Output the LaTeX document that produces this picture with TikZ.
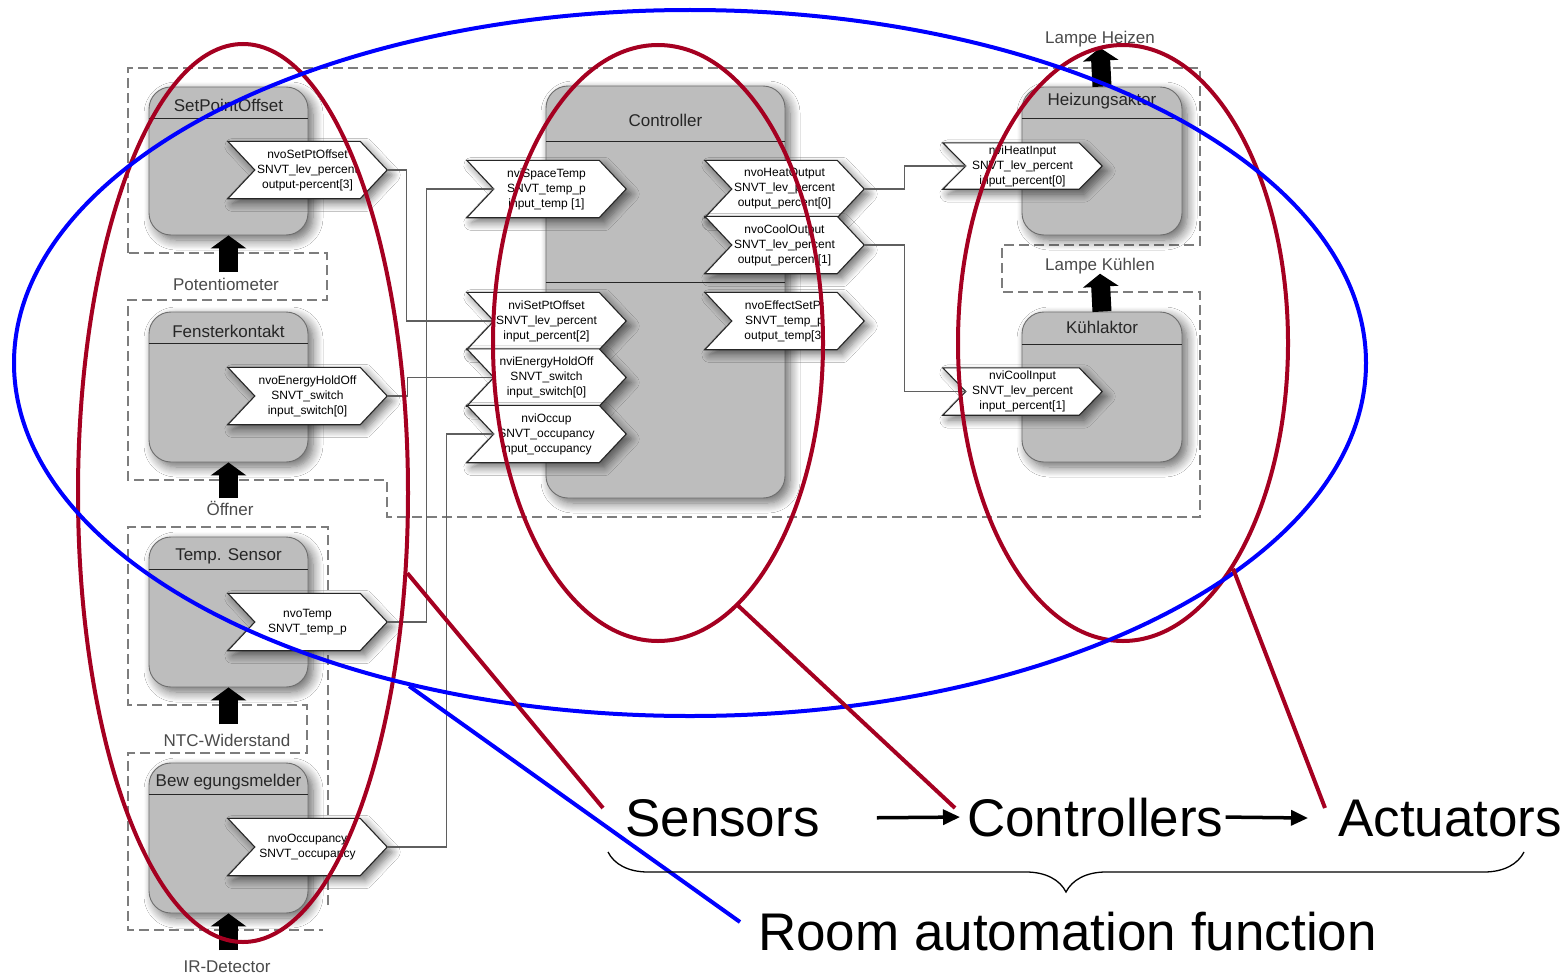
\documentclass[tikz,border=0pt]{standalone}
\usepackage{fontspec}
\setmainfont{Liberation Sans}
\usetikzlibrary{calc,arrows.meta,shadows.blur,shapes.geometric,decorations.pathreplacing}

\definecolor{devfill}{RGB}{189,189,189}
\definecolor{devedge}{RGB}{110,110,110}
\definecolor{ringred}{RGB}{165,0,33}
\definecolor{ringblue}{RGB}{0,0,255}
\definecolor{dashgray}{RGB}{125,125,125}
\definecolor{wiregray}{RGB}{95,95,95}
\definecolor{lblgray}{RGB}{75,75,75}

% functional block: name, cx, cy, width, height, title offset, rule offset, title
\newcommand\device[8]{%
  \node[devbox, minimum width=#4pt, minimum height=#5pt] (#1) at (#2,#3) {};
  \node[devtitle] (#1-title) at ([yshift=-#6pt]#1.north) {#8};
  \draw[devrule] ([yshift=-#7pt]#1.north west) -- ([yshift=-#7pt]#1.north east);
}
% network variable: name, cx, cy, height, point depth, text
\newcommand\nvport[6]{%
  \node[nvframe, minimum height=#4pt] (#1) at (#2,#3) {};
  \draw[nvshape] (#1.north west) -- ([xshift=-#5pt]#1.north east) -- (#1.east)
     -- ([xshift=-#5pt]#1.south east) -- (#1.south west) -- ([xshift=#5pt]#1.west) -- cycle;
  \coordinate (#1-in) at ([xshift=#5pt]#1.west);
  \node[nvtext] (#1-text) at (#1.center) {#6};
}

\begin{document}
\begin{tikzpicture}[x=1pt,y=-1pt,
  devbox/.style={rectangle, rounded corners=22pt, draw=devedge, line width=0.9pt, fill=devfill, inner sep=0pt,
    blur shadow={shadow xshift=5pt, shadow yshift=-5pt, shadow blur radius=10pt, shadow blur steps=10, shadow opacity=60}},
  devtitle/.style={inner sep=0pt, text=black!85, font=\fontsize{17}{20}\selectfont},
  devrule/.style={line width=1.2pt, draw=black!85},
  nvframe/.style={rectangle, minimum width=159pt, inner sep=0pt, draw=none},
  nvshape/.style={draw=black!85, line width=1.1pt, fill=white, line join=miter,
    blur shadow={shadow xshift=5pt, shadow yshift=-5pt, shadow blur radius=8pt, shadow blur steps=8, shadow opacity=55}},
  nvtext/.style={inner sep=0pt, align=center, text=black, font=\fontsize{12}{15}\selectfont},
  wire/.style={draw=wiregray, line width=1.1pt},
  dashline/.style={draw=dashgray, line width=1.4pt, dash pattern=on 10pt off 5pt},
  blockarrow/.style={draw=black, line width=19pt, -{Triangle[length=13pt, width=35pt]}},
  smalllabel/.style={inner sep=0pt, text=lblgray, font=\fontsize{17}{20}\selectfont},
  ring/.style={ellipse, inner sep=0pt, line width=4pt, fill=none},
  redring/.style={ring, draw=ringred},
  bluering/.style={ring, draw=ringblue},
  redlink/.style={draw=ringred, line width=4pt},
  bluelink/.style={draw=ringblue, line width=4pt},
  biglabel/.style={inner sep=0pt, text=black, font=\fontsize{53}{60}\selectfont},
  flow/.style={draw=black, line width=3.5pt, -{Triangle[length=17pt, width=15pt]}},
  bracebar/.style={draw=black, line width=1.3pt, decorate, decoration={brace, mirror, amplitude=40pt}}
]
\fill[white] (0,0) rectangle (1566,974);
\useasboundingbox (0,0) rectangle (1566,974);

% dashed device outlines
\draw[dashline] (128,253) -- (128,68) -- (1200,68) -- (1200,245) -- (1002,245) -- (1002,292)
  -- (1200,292) -- (1200,517) -- (387,517) -- (387,480) -- (128,480) -- (128,300)
  -- (327,300) -- (327,253) -- cycle;
\draw[dashline] (328,905) -- (328,527) -- (128,527) -- (128,705) -- (307,705) -- (307,753)
  -- (128,753) -- (128,930) -- (323,930);

% functional blocks
\device{spo}{228.5}{161}{159}{148}{19}{32}{SetPointOffset}
\device{fen}{228.5}{387}{159}{150}{20}{32}{Fensterkontakt}
\device{tmp}{228.5}{612}{159}{150}{20}{33}{Temp. Sensor}
\device{bew}{228.5}{838}{159}{150}{20}{32}{Bew egungsmelder}
\device{ctl}{665.5}{292}{239}{412}{35}{56}{Controller}
\draw[devrule, line width=1pt] ([yshift=-197pt]ctl.north west) -- ([yshift=-197pt]ctl.north east);
\device{hzg}{1102}{161}{160}{148}{15}{32}{Heizungsaktor}
\device{kue}{1102}{387}{160}{150}{16}{33}{Kühlaktor}

% network variables
\nvport{nvoSPO}{307.5}{170}{57}{27}{nvoSetPtOffset\\SNVT\_lev\_percent\\output-percent[3]}
\nvport{nvoEHO}{307.5}{396}{57}{27}{nvoEnergyHoldOff\\SNVT\_switch\\input\_switch[0]}
\nvport{nvoTmp}{307.5}{622}{57}{27}{nvoTemp\\SNVT\_temp\_p}
\nvport{nvoOcc}{307.5}{847}{57}{27}{nvoOccupancy\\SNVT\_occupancy}
\nvport{nviST}{546.5}{189}{57}{27}{nviSpaceTemp\\SNVT\_temp\_p\\input\_temp [1]}
\nvport{nviSPO}{546.5}{321}{57}{27}{nviSetPtOffset\\SNVT\_lev\_percent\\input\_percent[2]}
\nvport{nviEHO}{546.5}{377.5}{57}{27}{nviEnergyHoldOff\\SNVT\_switch\\input\_switch[0]}
\nvport{nviOcc}{546.5}{434}{57}{27}{nviOccup\\SNVT\_occupancy\\input\_occupancy}
\nvport{nvoHO}{784.5}{189}{57}{27}{nvoHeatOutput\\SNVT\_lev\_percent\\output\_percent[0]}
\nvport{nvoCO}{784.5}{245}{57}{27}{nvoCoolOutput\\SNVT\_lev\_percent\\output\_percent[1]}
\nvport{nvoESP}{784.5}{321}{57}{27}{nvoEffectSetPt\\SNVT\_temp\_p\\output\_temp[3]}
\nvport{nviHI}{1022.5}{166}{46}{23}{nviHeatInput\\SNVT\_lev\_percent\\input\_percent[0]}
\nvport{nviCI}{1022.5}{391.5}{47}{23}{nviCoolInput\\SNVT\_lev\_percent\\input\_percent[1]}

% bindings
\draw[wire] (nvoSPO.east) -- ++(19,0) |- (nviSPO-in);
\draw[wire] (nvoEHO.east) -- ++(20,0) |- (nviEHO-in);
\draw[wire] (nvoTmp.east) -- ++(39,0) |- (nviST-in);
\draw[wire] (nvoOcc.east) -- ++(59,0) |- (nviOcc-in);
\draw[wire] (nvoHO.east) -- ++(40,0) |- (nviHI-in);
\draw[wire] (nvoCO.east) -- ++(40,0) |- (nviCI-in);

% physical inputs and outputs
\node[smalllabel, anchor=base] (potl) at (226,290) {Potentiometer};
\node[smalllabel, anchor=base] (offl) at (230,515) {Öffner};
\node[smalllabel, anchor=base] (ntcl) at (227,746) {NTC-Widerstand};
\node[smalllabel, anchor=base] (irl) at (227,972) {IR-Detector};
\node[smalllabel, anchor=base] (lhl) at (1100,44) {Lampe Heizen};
\node[smalllabel, anchor=base] (lkl) at (1100,270) {Lampe Kühlen};
\draw[blockarrow] ([yshift=-37pt]spo.south) -- (spo.south);
\draw[blockarrow] ([yshift=-36pt]fen.south) -- (fen.south);
\draw[blockarrow] ([yshift=-37pt]tmp.south) -- (tmp.south);
\draw[blockarrow] ([yshift=-37pt]bew.south) -- (bew.south);
\draw[blockarrow] (hzg.north) -- (lhl.south);
\draw[blockarrow] (kue.north) -- (lkl.south);

% grouping rings
\node[redring, minimum width=330pt, minimum height=898pt] (ringS) at (243,493) {};
\node[redring, minimum width=330pt, minimum height=596pt] (ringC) at (658,343) {};
\node[redring, minimum width=330pt, minimum height=596pt] (ringA) at (1123,343) {};
\node[bluering, minimum width=1352pt, minimum height=706pt] (ringR) at (690,363) {};

% captions
\node[biglabel, anchor=base west] (sens) at (625,836) {Sensors};
\node[biglabel, anchor=base west] (ctrl) at (967,836) {Controllers};
\node[biglabel, anchor=base west] (act) at (1338,836) {Actuators};
\node[biglabel, anchor=base west] (room) at (758,950) {Room automation function};

\coordinate (sensEnd) at (603,808);
\coordinate (ctrlEnd) at (955,808);
\coordinate (actEnd) at (1325,808);
\coordinate (roomEnd) at (740,922);
\draw[redlink] (ringS.334) -- (sensEnd);
\draw[redlink] (ringC.287) -- (ctrlEnd);
\draw[redlink] (ringA.296.3) -- (actEnd);
\draw[bluelink] (ringR.229.6) -- (roomEnd);

\draw[flow] ([xshift=57pt]sens.east) -- ([xshift=-7pt]ctrl.west);
\draw[flow] ([xshift=2pt]ctrl.east) -- ([xshift=-30pt]act.west);
\coordinate (braceL) at (608,852);
\coordinate (braceR) at (1524,852);
\draw[bracebar] (braceL) -- (braceR);
\end{tikzpicture}
\end{document}
